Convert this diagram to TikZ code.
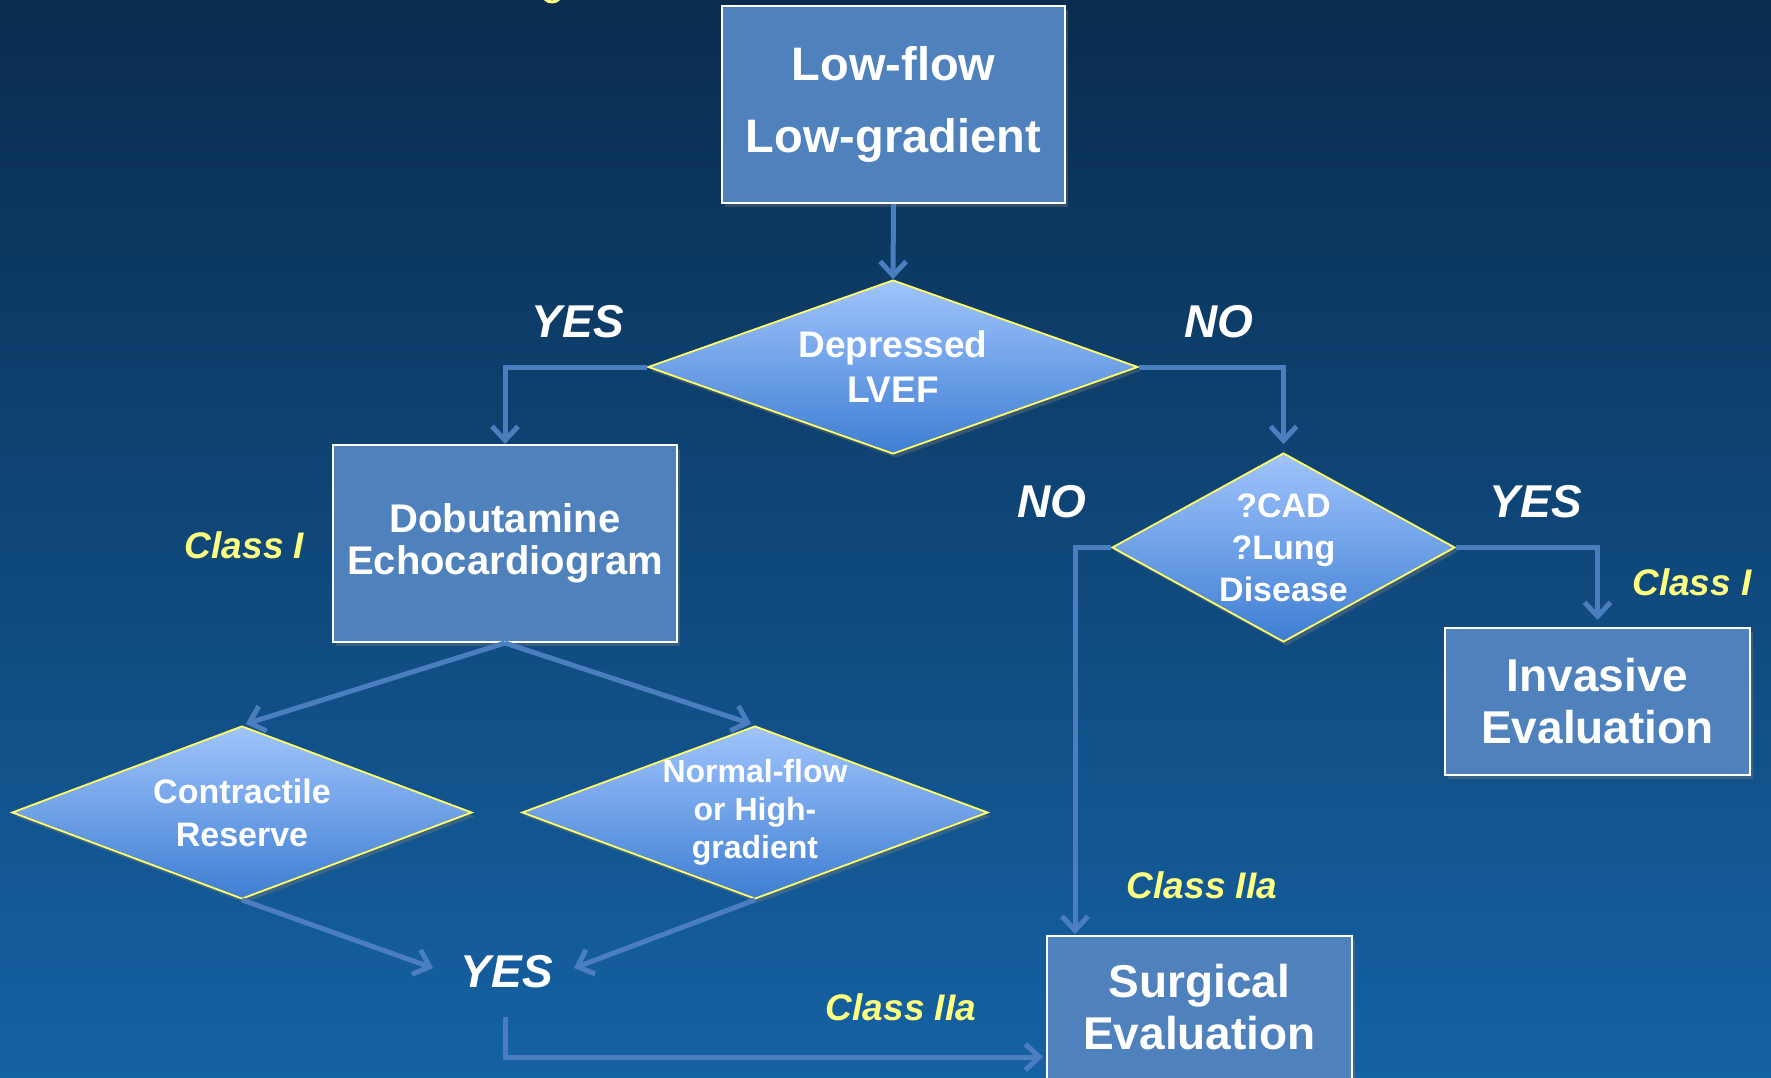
\documentclass[tikz,border=0pt]{standalone}
\usepackage{fontspec}
\setmainfont{Liberation Sans}
\usetikzlibrary{shapes.geometric,arrows.meta,shadows}
\definecolor{boxfill}{HTML}{4F81BD}
\definecolor{linec}{HTML}{4A7EBF}
\definecolor{dtop}{HTML}{A0C4FD}
\definecolor{dbot}{HTML}{3E7ED2}
\definecolor{dborder}{HTML}{FFFF66}
\definecolor{lab}{HTML}{FFFF80}
\definecolor{bgtop}{HTML}{0A2C4E}
\definecolor{bgmid}{HTML}{0F4779}
\definecolor{bgbot}{HTML}{1562A4}
\begin{document}
\begin{tikzpicture}[x=1pt,y=-1pt,
  box/.style={draw=white, line width=2pt, fill=boxfill, text=white, align=center, inner sep=0pt,
    drop shadow={shadow xshift=3pt, shadow yshift=-4pt, opacity=0.35}},
  dia/.style={diamond, draw=dborder, line width=1.8pt, top color=dtop, bottom color=dbot, inner sep=0pt,
    drop shadow={shadow xshift=3pt, shadow yshift=-4pt, opacity=0.35}},
  dtext/.style={text=white, align=center, inner sep=0pt},
  conn/.style={draw=linec, line width=5pt, -{Straight Barb[length=14pt,width=26pt]}},
  yn/.style={text=white, font=\bfseries\itshape\fontsize{46}{50}\selectfont, inner sep=0pt, anchor=base},
  cls/.style={text=lab, font=\bfseries\itshape\fontsize{37}{40}\selectfont, inner sep=0pt, anchor=base}
]
\useasboundingbox (0,0) rectangle (1771,1078);
\fill[top color=bgtop, bottom color=bgbot, middle color=bgmid] (0,0) rectangle (1771,1078);
\draw[lab, line width=3pt] (561.4,-4.6) arc[start angle=20, end angle=160, radius=10];

% nodes
\node[box, minimum width=343pt, minimum height=197pt, font=\bfseries\fontsize{47}{72}\selectfont] (lf) at (893.5,104.5) {Low-flow\\Low-gradient};
\node[dia, minimum width=490pt, minimum height=174pt] (dep) at (893,367) {};
\node[dtext, font=\bfseries\fontsize{37}{45}\selectfont] (dept) at (dep.center) {Depressed\\LVEF};
\node[box, minimum width=344pt, minimum height=197pt, font=\bfseries\fontsize{40}{42}\selectfont] (dob) at (505,543.5) {Dobutamine\\Echocardiogram};
\node[dia, minimum width=460pt, minimum height=173pt] (cr) at (242,812.5) {};
\node[dtext, font=\bfseries\fontsize{34}{43}\selectfont] (crt) at (cr.center) {Contractile\\Reserve};
\node[dia, minimum width=466pt, minimum height=173pt] (nf) at (755,812.5) {};
\node[dtext, font=\bfseries\fontsize{32}{38}\selectfont] (nft) at (nf.center) {Normal-flow\\or High-\\gradient};
\node[dia, minimum width=343pt, minimum height=189pt] (cad) at (1283.5,547.5) {};
\node[dtext, font=\bfseries\fontsize{34}{42}\selectfont] (cadt) at (cad.center) {?CAD\\?Lung\\Disease};
\node[box, minimum width=305pt, minimum height=147pt, font=\bfseries\fontsize{46}{52}\selectfont] (inv) at (1597.5,701.5) {Invasive\\Evaluation};
\node[box, minimum width=305pt, minimum height=160pt] (surg) at (1199.5,1016) {};
\node[dtext, font=\bfseries\fontsize{46}{52}\selectfont] (surgt) at (1199.5,1007) {Surgical\\Evaluation};

% labels
\node[yn] (yes1) at (578,337) {YES};
\node[yn] (no1) at (1219,337) {NO};
\node[yn] (no2) at (1052,517) {NO};
\node[yn] (yes2) at (1536,517) {YES};
\node[yn] (yes3) at (507,987) {YES};
\node[cls] (c1) at (244.5,558) {Class I};
\node[cls] (c2) at (1692,595) {Class I};
\node[cls] (c3) at (1202,898) {Class IIa};
\node[cls] (c4) at (901,1020) {Class IIa};

% free ends
\coordinate (yl) at (433,968);
\coordinate (yr) at (574,968);
\coordinate (ys) at (505,1017);
\coordinate (sw) at (1043,1057);
\coordinate (sn) at (1075,934);

% connectors
\draw[conn] (lf.south) -- (dep.north);
\draw[conn] (dep.west) -| (dob.north);
\draw[conn, shorten >=8pt] (dep.east) -| (cad.north);
\draw[conn, shorten >=4pt] (dob.south) -- (cr.north);
\draw[conn, shorten >=4pt] (dob.south) -- (nf.north);
\draw[conn] (cr.south) -- (yl);
\draw[conn] (nf.south) -- (yr);
\draw[conn] (ys) |- (sw);
\draw[conn] (cad.west) -| (sn);
\draw[conn, shorten >=7pt] (cad.east) -| (inv.north);
\end{tikzpicture}
\end{document}
